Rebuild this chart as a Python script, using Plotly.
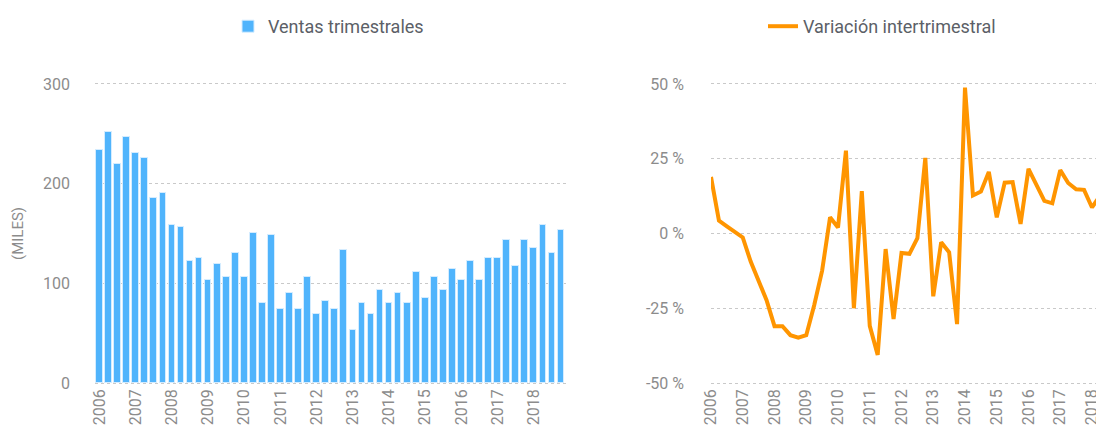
import plotly.graph_objects as go

# ---- data ----
years = list(range(2006, 2019))
quarters = [1, 2, 3, 4]
year_labels = [str(y) for y in years]

ventas_trimestrales = [234, 252, 220, 247, 231, 226, 186, 191, 159, 157, 122, 125,
                       103, 119, 106, 130, 106, 151, 80, 149, 74, 90, 74, 106,
                       69, 82, 74, 133, 53, 80, 69, 93, 80, 90, 80, 111,
                       85, 106, 93, 114, 103, 122, 103, 125, 125, 143, 117, 143,
                       135, 159, 130, 154]

variacion_intertrimestral = [18.9, 4.3, 2.4, 0.4, -1.3, -9.4, -15.7, -22.3, -31.0, -31.0,
                             -34.0, -34.8, -34.0, -24.0, -12.4, 5.4, 2.0, 27.7, -25.0, 14.2,
                             -30.9, -40.6, -5.2, -28.6, -6.5, -6.8, -1.6, 25.3, -21.0, -2.9,
                             -6.3, -30.3, 48.8, 12.7, 14.0, 20.6, 5.4, 17.0, 17.2, 3.2,
                             21.6, 15.9, 10.9, 10.1, 21.2, 16.9, 14.8, 14.6, 8.7, 12.6,
                             11.4]

left_tickvals = [0, 100, 200, 300]
right_tickvals = [-50, -25, 0, 25, 50]
right_ticktext = ["-50 %", "-25 %", "0 %", "25 %", "50 %"]

# quarter positions (year + fraction)
periods = [y + (q - 1) / 4 for y in years for q in quarters]

# ---- style ----
# the page body adds an 8px margin; design in window pixels and shift
OFF = 8
W, H = 1104 - OFF, 430 - OFF
FONT = "Roboto"
TICK_COLOR = "#8c8c8c"
GRID_COLOR = "#c9c9c9"
LEG_COLOR = "#5c5f67"
BLUE = "#50b4fc"
ORANGE = "#ff9500"

Y_TOP, Y_BOT = 82, 383          # window pixels of top / bottom gridlines
PADPX = 2                        # extra plot-area pixels so edge gridlines show
top = Y_TOP - PADPX - OFF
bottom = 430 - (Y_BOT + PADPX)
plot_h = H - top - bottom

L_MIN, L_MAX = 0, 300
R_MIN, R_MAX = -50, 50
l_pad = PADPX * (L_MAX - L_MIN) / (Y_BOT - Y_TOP)
r_pad = PADPX * (R_MAX - R_MIN) / (Y_BOT - Y_TOP)


def px(pix):
    return (pix - OFF) / W


def py(pix):
    return (Y_BOT + PADPX - pix) / plot_h


fig = go.Figure()

fig.add_trace(go.Bar(
    x=periods[:len(ventas_trimestrales)], y=ventas_trimestrales,
    name="Ventas trimestrales",
    marker=dict(color=BLUE, line=dict(color="#d4ecff", width=1)),
    width=0.185,
    xaxis="x", yaxis="y", legend="legend",
))

fig.add_trace(go.Scatter(
    x=periods[:len(variacion_intertrimestral)], y=variacion_intertrimestral,
    name="Variación intertrimestral", mode="lines",
    line=dict(color=ORANGE, width=4),
    xaxis="x2", yaxis="y2", legend="legend2",
))

tickfont = dict(family=FONT, size=16, color=TICK_COLOR)
legfont = dict(family=FONT, size=18, color=LEG_COLOR)

fig.update_layout(
    width=W, height=H,
    margin=dict(l=0, r=0, t=top, b=bottom, pad=0),
    paper_bgcolor="white", plot_bgcolor="white",
    font=dict(family=FONT),
    bargap=0,
    xaxis=dict(domain=[px(95), px(565.5)], range=[2005.875, 2018.875],
               tickvals=years, ticktext=year_labels, tickangle=-90,
               tickfont=tickfont, showgrid=False, zeroline=False, showline=False,
               ticks="", ticklabelstandoff=0, automargin=False, fixedrange=True),
    yaxis=dict(range=[L_MIN - l_pad, L_MAX + l_pad], tickvals=left_tickvals,
               tickfont=tickfont,
               showgrid=True, gridcolor=GRID_COLOR, griddash="dot", gridwidth=1,
               zeroline=False, showline=False, ticks="", ticklabelstandoff=24,
               automargin=False, fixedrange=True),
    xaxis2=dict(domain=[px(711), 1.0], range=[2006, 2006 + 393 / 31.75], anchor="y2",
                tickvals=years, ticktext=year_labels, tickangle=-90,
                tickfont=tickfont, showgrid=False, zeroline=False, showline=False,
                ticks="", ticklabelstandoff=0, automargin=False, fixedrange=True),
    yaxis2=dict(range=[R_MIN - r_pad, R_MAX + r_pad], anchor="x2",
                tickvals=right_tickvals, ticktext=right_ticktext, tickfont=tickfont,
                showgrid=True, gridcolor=GRID_COLOR, griddash="dot", gridwidth=1,
                zeroline=False, showline=False, ticks="", ticklabelstandoff=26,
                automargin=False, fixedrange=True),
    legend=dict(x=px(228), y=py(24), xanchor="left", yanchor="middle",
                orientation="h", font=legfont,
                bgcolor="rgba(0,0,0,0)", borderwidth=0),
    legend2=dict(x=px(763), y=py(24), xanchor="left", yanchor="middle",
                 orientation="h", font=legfont,
                 bgcolor="rgba(0,0,0,0)", borderwidth=0),
    showlegend=True,
    annotations=[dict(text="(MILES)", xref="paper", yref="paper",
                      x=px(18), y=py(233), textangle=-90, showarrow=False,
                      xanchor="center", yanchor="middle",
                      font=dict(family=FONT, size=15, color=TICK_COLOR))],
)

fig.write_html("out.html")
